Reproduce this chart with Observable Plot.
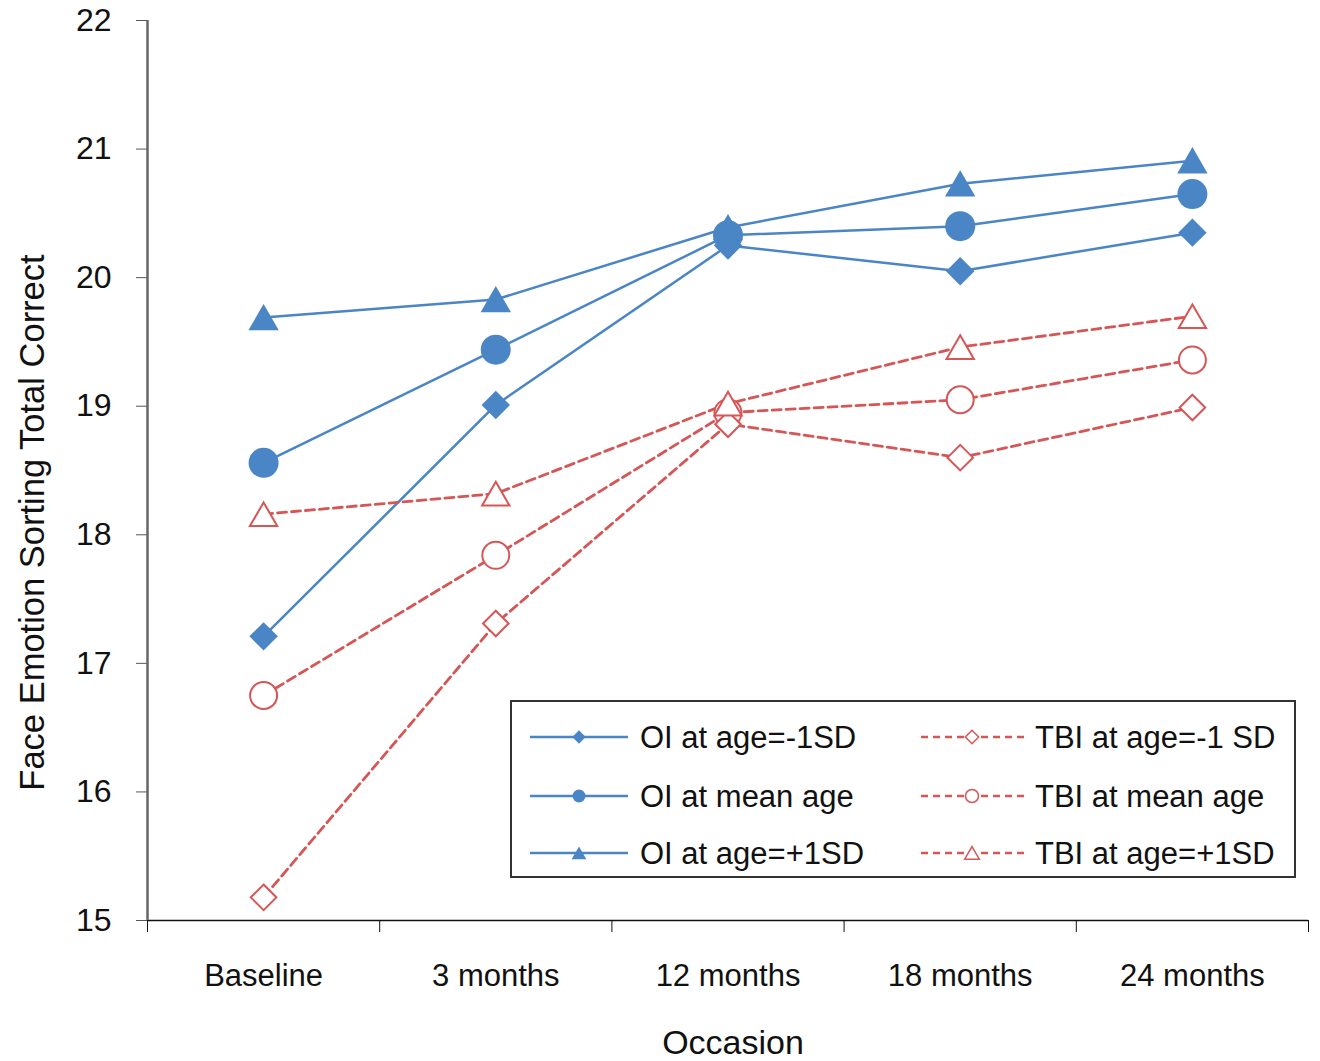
<!DOCTYPE html>
<html><head><meta charset="utf-8">
<script src="https://cdn.jsdelivr.net/npm/d3@7"></script>
<script src="https://cdn.jsdelivr.net/npm/@observablehq/plot@0.6"></script>
<style>
body{margin:0;background:#fff;font-family:"Liberation Sans",Arial,sans-serif;}
#wrap{position:relative;width:1320px;height:1061px;}
#legend{position:absolute;left:510px;top:700px;}
</style></head><body><div id="wrap"></div>
<script>
const occasions = ["Baseline","3 months","12 months","18 months","24 months"];
const yTicks = [15,16,17,18,19,20,21,22];
const oiMinus  = [17.21, 19.01, 20.25, 20.05, 20.35];
const oiMean   = [18.56, 19.44, 20.33, 20.40, 20.65];
const oiPlus   = [19.69, 19.83, 20.39, 20.73, 20.91];
const tbiMinus = [15.18, 17.31, 18.86, 18.60, 18.99];
const tbiMean  = [16.75, 17.84, 18.95, 19.05, 19.36];
const tbiPlus  = [18.16, 18.32, 19.02, 19.46, 19.70];
const seriesNames = ["OI at age=-1SD","OI at mean age","OI at age=+1SD","TBI at age=-1 SD","TBI at mean age","TBI at age=+1SD"];
const yTitle = "Face Emotion Sorting Total Correct";
const xTitle = "Occasion";

const BLUE = "#4a85c6", RED = "#d65656";
const symbols = ["diamond2","circle","triangle2"];
const radii = [12.8, 15, 14.5];
const legendRadii = [6, 6.5, 7];
const series = [
  {name: seriesNames[0], group:"OI", k:0, values: oiMinus},
  {name: seriesNames[1], group:"OI", k:1, values: oiMean},
  {name: seriesNames[2], group:"OI", k:2, values: oiPlus},
  {name: seriesNames[3], group:"TBI", k:0, values: tbiMinus},
  {name: seriesNames[4], group:"TBI", k:1, values: tbiMean},
  {name: seriesNames[5], group:"TBI", k:2, values: tbiPlus}
];
const rows = series.flatMap(s => s.values.map((v, i) => ({series: s.name, group: s.group, k: s.k, symbol: symbols[s.k], r: radii[s.k], i, value: v})));
const oiRows = rows.filter(d => d.group === "OI");
const tbiRows = rows.filter(d => d.group === "TBI");
const bounds = d3.range(occasions.length + 1).map(i => i - 0.5);
const centers = d3.range(occasions.length);
const isTri = d => d.k === 2;

const chart = Plot.plot({
  width: 1320, height: 1061,
  marginLeft: 147, marginRight: 12, marginTop: 20, marginBottom: 141,
  style: {fontFamily: '"Liberation Sans", Arial, sans-serif', background: "#fff"},
  x: {type: "linear", domain: [-0.5, occasions.length - 0.5]},
  y: {domain: [15, 22]},
  r: {type: "identity"},
  marks: [
    Plot.axisY(yTicks, {tickSize: 11, tickPadding: 25, fontSize: 32, stroke: "#555", fill: "#111", tickFormat: d => d, label: null}),
    Plot.axisX(bounds, {tickSize: 12, tickFormat: () => "", stroke: "#111", label: null}),
    Plot.axisX(centers, {tickSize: 0, tickPadding: 43, fontSize: 31, fill: "#111", tickFormat: i => occasions[i], label: null}),
    Plot.ruleY([15], {stroke: "#111", strokeWidth: 1.5}),
    Plot.ruleX([-0.5], {y1: 15, y2: 22, stroke: "#666", strokeWidth: 2.5}),
    Plot.line(oiRows, {x: "i", y: "value", z: "series", stroke: BLUE, strokeWidth: 2.5}),
    Plot.line(tbiRows, {x: "i", y: "value", z: "series", stroke: RED, strokeWidth: 2.8, strokeDasharray: "9,5"}),
    Plot.dot(oiRows, {filter: d => !isTri(d), x: "i", y: "value", symbol: "symbol", r: "r", fill: BLUE, stroke: "none"}),
    Plot.dot(oiRows, {filter: isTri, x: "i", y: "value", symbol: "symbol", r: "r", dy: 4, fill: BLUE, stroke: "none"}),
    Plot.dot(tbiRows, {filter: d => !isTri(d), x: "i", y: "value", symbol: "symbol", r: d => d.r * 0.9, fill: "#fff", stroke: RED, strokeWidth: 2}),
    Plot.dot(tbiRows, {filter: isTri, x: "i", y: "value", symbol: "symbol", r: d => d.r * 0.9, dy: 4, fill: "#fff", stroke: RED, strokeWidth: 2}),
    Plot.text([yTitle], {frameAnchor: "left", textAnchor: "middle", rotate: -90, dx: -115, dy: 52, fontSize: 34.5, fill: "#111"}),
    Plot.text([xTitle], {frameAnchor: "bottom", dx: 5, dy: 133, fontSize: 34, fill: "#111"})
  ]
});
const wrap = document.getElementById("wrap");
wrap.appendChild(chart);

// Legend (inside plot area, as in the reference)
const lw = 786, lh = 178;
const leg = d3.select(wrap).append("svg").attr("id", "legend").attr("width", lw).attr("height", lh)
  .style("font-family", '"Liberation Sans", Arial, sans-serif');
leg.append("rect").attr("x", 1).attr("y", 1).attr("width", lw - 2).attr("height", lh - 2)
  .attr("fill", "#fff").attr("stroke", "#333").attr("stroke-width", 2);
const rowY = [37, 96, 153];
series.forEach(s => {
  const oi = s.group === "OI";
  const y = rowY[s.k];
  const x0 = oi ? 20 : 411, x1 = oi ? 118 : 514, cx = oi ? 69 : 462, tx = oi ? 130 : 525;
  leg.append("line").attr("x1", x0).attr("x2", x1).attr("y1", y).attr("y2", y)
    .attr("stroke", oi ? BLUE : RED).attr("stroke-width", 2.5)
    .attr("stroke-dasharray", oi ? null : "7,5");
  const r = legendRadii[s.k];
  const typ = [d3.symbolDiamond2, d3.symbolCircle, d3.symbolTriangle2][s.k];
  leg.append("path").attr("transform", `translate(${cx},${y + (s.k === 2 ? 2 : 0)})`)
    .attr("d", d3.symbol(typ, Math.PI * r * r)())
    .attr("fill", oi ? BLUE : "#fff").attr("stroke", oi ? "none" : RED).attr("stroke-width", 1.5);
  leg.append("text").attr("x", tx).attr("y", y).attr("dy", "0.35em")
    .attr("font-size", 31).attr("fill", "#111").text(s.name);
});
</script></body></html>
